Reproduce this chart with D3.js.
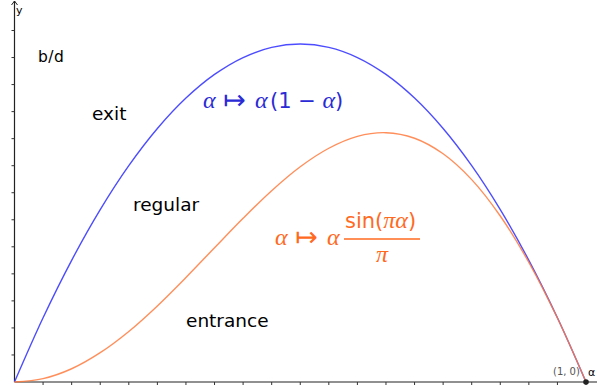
<!DOCTYPE html>
<html>
<head>
<meta charset="utf-8">
<script src="https://cdn.jsdelivr.net/npm/d3@7"></script>
<style>
  body { margin: 0; background: #fff; }
  svg { display: block; }
  .lbl { font-family: "DejaVu Sans", sans-serif; font-size: 18.5px; fill: #000; }
  .small { font-family: "DejaVu Sans", sans-serif; font-size: 11px; }
  .gr { font-family: "Liberation Serif", serif; font-style: italic; font-size: 24px; }
  .rm { font-family: "DejaVu Sans", sans-serif; }
  .arr { font-family: "DejaVu Sans", sans-serif; font-size: 27px; }
</style>
</head>
<body>
<div id="chart"></div>
<script>
// sample points along alpha
const alphas = [0, 0.05, 0.1, 0.15, 0.2, 0.25, 0.3, 0.35, 0.4, 0.45, 0.5,
                0.55, 0.6, 0.65, 0.7, 0.75, 0.8, 0.85, 0.9, 0.95, 1];
// exit curve (blue)
const exitVals = [0, 0.0475, 0.09, 0.1275, 0.16, 0.1875, 0.21, 0.2275, 0.24, 0.2475, 0.25,
                  0.2475, 0.24, 0.2275, 0.21, 0.1875, 0.16, 0.1275, 0.09, 0.0475, 0];
// entrance curve (orange)
const entranceVals = [0, 0.0025, 0.0098, 0.0217, 0.0374, 0.0563, 0.0773, 0.0993, 0.1211, 0.1415, 0.1592,
                      0.1729, 0.1817, 0.1844, 0.1803, 0.1688, 0.1497, 0.1228, 0.0885, 0.0473, 0];
const xTicks = d3.range(1, 21).map(i => i * 0.05);
const yTicks = d3.range(1, 14).map(i => i * 0.02);

const width = 597, height = 388;
const svg = d3.select("#chart").append("svg")
    .attr("width", width)
    .attr("height", height);

svg.append("rect").attr("width", width).attr("height", height).attr("fill", "#fff");

const x = d3.scaleLinear().domain([0, 1]).range([14.5, 586]);
const y = d3.scaleLinear().domain([0, 0.26]).range([382, 30.5]);

// axes lines
svg.append("line")
    .attr("x1", x(0)).attr("x2", width)
    .attr("y1", y(0)).attr("y2", y(0))
    .attr("stroke", "#222").attr("stroke-width", 1.2);
svg.append("line")
    .attr("x1", x(0)).attr("x2", x(0))
    .attr("y1", y(0)).attr("y2", 1)
    .attr("stroke", "#222").attr("stroke-width", 1.2);
// arrow head on y axis
svg.append("path")
    .attr("d", `M${x(0) - 3},5 L${x(0)},1 L${x(0) + 3},5`)
    .attr("fill", "none").attr("stroke", "#222").attr("stroke-width", 1);

svg.selectAll(".xt").data(xTicks).enter().append("line")
    .attr("x1", d => x(d)).attr("x2", d => x(d))
    .attr("y1", y(0)).attr("y2", y(0) + 3)
    .attr("stroke", "#333");
svg.selectAll(".yt").data(yTicks).enter().append("line")
    .attr("x1", x(0) - 3).attr("x2", x(0))
    .attr("y1", d => y(d)).attr("y2", d => y(d))
    .attr("stroke", "#333");

svg.append("text").attr("class", "small").attr("x", 16).attr("y", 14).text("y");
svg.append("text").attr("class", "small").attr("x", 588).attr("y", 376).text("α");

// curves
const pts = vals => alphas.map((a, i) => [a, vals[i]]);
const line = d3.line()
    .x(d => x(d[0]))
    .y(d => y(d[1]))
    .curve(d3.curveCatmullRom);

svg.append("path")
    .datum(pts(exitVals))
    .attr("d", line)
    .attr("fill", "none")
    .attr("stroke", "#4d4dff")
    .attr("stroke-width", 1.4);
svg.append("path")
    .datum(pts(entranceVals))
    .attr("d", line)
    .attr("fill", "none")
    .attr("stroke", "#ff7a3d")
    .attr("stroke-opacity", 0.85)
    .attr("stroke-width", 1.4);

// point (1, 0)
svg.append("circle")
    .attr("cx", x(1)).attr("cy", y(0)).attr("r", 2.8)
    .attr("fill", "#222");
svg.append("text").attr("class", "small")
    .attr("x", 553).attr("y", 375)
    .attr("fill", "#555")
    .style("font-size", "10px")
    .text("(1, 0)");

// region labels
svg.append("text").attr("class", "small")
    .attr("x", 38).attr("y", 62)
    .style("font-size", "15.5px")
    .style("letter-spacing", "0.5px")
    .text("b/d");
svg.append("text").attr("class", "lbl").attr("x", 92).attr("y", 120).text("exit");
svg.append("text").attr("class", "lbl").attr("x", 133).attr("y", 211).text("regular");
svg.append("text").attr("class", "lbl").attr("x", 186).attr("y", 327).text("entrance");

// "α ↦ α" prefix shared by both formulas, pieces placed from the start x
function mapsTo(g, x0, baseline, color) {
    g.append("text").attr("class", "gr").attr("x", x0).attr("y", baseline)
        .attr("fill", color).text("α");
    g.append("text").attr("class", "arr").attr("x", x0 + 20).attr("y", baseline + 1)
        .attr("fill", color).text("↦");
    g.append("text").attr("class", "gr").attr("x", x0 + 52).attr("y", baseline)
        .attr("fill", color).text("α");
}

// blue formula
const blue = "#2b2bd6";
mapsTo(svg, 203, 108, blue);
const f1 = svg.append("text").attr("x", 270).attr("y", 108)
    .attr("fill", blue).style("font-size", "21px");
f1.append("tspan").attr("class", "rm").text("(1 − ");
f1.append("tspan").attr("class", "gr").text("α");
f1.append("tspan").attr("class", "rm").text(")");

// orange formula
const orange = "#ff6a1f";
mapsTo(svg, 275, 245, orange);

const num = svg.append("text").attr("x", 345).attr("y", 228)
    .attr("fill", orange).style("font-size", "21px");
num.append("tspan").attr("class", "rm").text("sin(");
num.append("tspan").attr("class", "gr").text("πα");
num.append("tspan").attr("class", "rm").text(")");
svg.append("line")
    .attr("x1", 344).attr("x2", 420)
    .attr("y1", 239).attr("y2", 239)
    .attr("stroke", orange).attr("stroke-width", 1.3);
svg.append("text").attr("class", "gr")
    .attr("x", 382).attr("y", 262)
    .attr("text-anchor", "middle")
    .attr("fill", orange)
    .text("π");
</script>
</body>
</html>
